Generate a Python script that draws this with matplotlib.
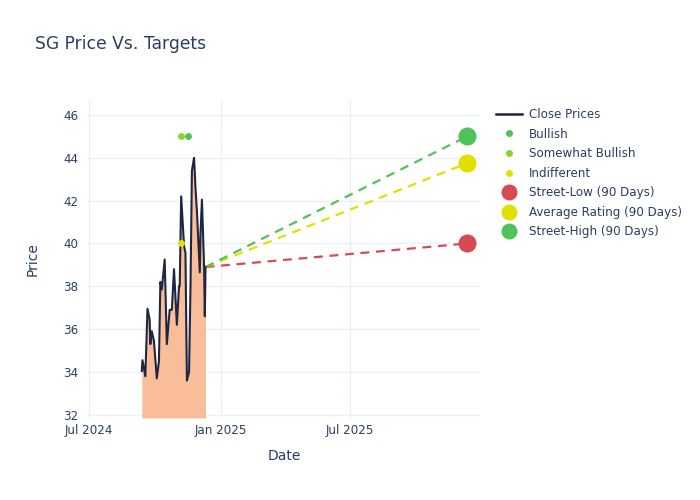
import matplotlib
matplotlib.use("Agg")
import matplotlib.pyplot as plt
import matplotlib.dates as mdates
from matplotlib.lines import Line2D
import pandas as pd

# ---- data ----
close_dates = ["2024-09-13", "2024-09-14", "2024-09-18", "2024-09-21", "2024-09-24",
               "2024-09-25", "2024-09-27", "2024-09-30", "2024-10-04", "2024-10-07",
               "2024-10-09", "2024-10-11", "2024-10-15", "2024-10-18", "2024-10-22",
               "2024-10-25", "2024-10-28", "2024-11-01", "2024-11-04", "2024-11-05",
               "2024-11-07", "2024-11-11", "2024-11-13", "2024-11-15", "2024-11-18",
               "2024-11-20", "2024-11-22", "2024-11-25", "2024-11-27", "2024-11-29",
               "2024-12-03", "2024-12-04", "2024-12-06", "2024-12-09", "2024-12-10",
               "2024-12-11"]
close_prices = [34.05, 34.55, 33.8, 36.95, 36.45,
                35.3, 35.9, 35.45, 33.7, 34.5,
                38.2, 37.85, 39.25, 35.3, 36.9,
                36.9, 38.8, 36.2, 38.0, 38.0,
                42.2, 39.9, 39.55, 33.6, 34.0,
                37.9, 43.4, 44.0, 42.6, 41.5,
                38.65, 40.5, 42.05, 38.9, 36.6,
                38.9]

bullish_dates = ["2024-11-17"]
bullish_prices = [45]
somewhat_bullish_dates = ["2024-11-07"]
somewhat_bullish_prices = [45]
indifferent_dates = ["2024-11-07"]
indifferent_prices = [40]

target_date = "2025-12-11"
street_low = 40.0
average_rating = 43.75
street_high = 45.0

# ---- style ----
TEXT = "#2a3f5f"
GRID = "#ebf0f8"
GREEN = "#4fc25a"
LIGHTGREEN = "#8fd12f"
YELLOW = "#e0e000"
RED = "#d64b51"
LINE = "#1d2743"
FILL = "#fabd99"

cd = pd.to_datetime(close_dates)
td = pd.to_datetime(target_date)
last_d = cd[-1]
last_p = close_prices[-1]

fig = plt.figure(figsize=(7, 5), dpi=100)
ax = fig.add_axes([88/700, 1-418/500, (480-88)/700, (418-100)/500])

ax.fill_between(cd, close_prices, 31.85, color=FILL, lw=0, zorder=1)
ax.plot(cd, close_prices, color=LINE, lw=1.5, zorder=3)

ax.plot([last_d, td], [last_p, street_low], ls=(0, (4, 3)), color=RED, lw=1.6, zorder=2)
ax.plot([last_d, td], [last_p, average_rating], ls=(0, (4, 3)), color=YELLOW, lw=1.6, zorder=2)
ax.plot([last_d, td], [last_p, street_high], ls=(0, (4, 3)), color=GREEN, lw=1.6, zorder=2)

ax.plot(pd.to_datetime(bullish_dates), bullish_prices, 'o', color=GREEN, ms=5, mew=0, zorder=4)
ax.plot(pd.to_datetime(somewhat_bullish_dates), somewhat_bullish_prices, 'o', color=LIGHTGREEN, ms=5, mew=0, zorder=4)
ax.plot(pd.to_datetime(indifferent_dates), indifferent_prices, 'o', color=YELLOW, ms=5, mew=0, zorder=4)

ax.plot([td], [street_low], 'o', color=RED, ms=13, mew=0, zorder=5)
ax.plot([td], [average_rating], 'o', color=YELLOW, ms=13, mew=0, zorder=5)
ax.plot([td], [street_high], 'o', color=GREEN, ms=13, mew=0, zorder=5)

ax.set_xlim(pd.Timestamp("2024-06-30"), pd.Timestamp("2025-12-29"))
ax.set_ylim(31.85, 46.7)
ax.set_yticks([32, 34, 36, 38, 40, 42, 44, 46])
ax.set_xticks(pd.to_datetime(["2024-07-01", "2025-01-01", "2025-07-01"]))
ax.xaxis.set_major_formatter(mdates.DateFormatter("%b %Y"))

for s in ax.spines.values():
    s.set_visible(False)
ax.grid(True, color=GRID, lw=1)
ax.set_axisbelow(True)
ax.tick_params(axis='both', length=0, labelsize=8.6, colors=TEXT)
ax.tick_params(axis='y', pad=7)
ax.tick_params(axis='x', pad=4)

ax.set_xlabel("Date", fontsize=10, color=TEXT, labelpad=9)
ax.set_ylabel("Price", fontsize=10, color=TEXT, labelpad=17)

fig.text(35/700, 1-44/500, "SG Price Vs. Targets", fontsize=12.3, color=TEXT, va='center', ha='left')

handles = [
    Line2D([], [], color=LINE, lw=1.8),
    Line2D([], [], ls='none', marker='o', color=GREEN, ms=5, mew=0),
    Line2D([], [], ls='none', marker='o', color=LIGHTGREEN, ms=5, mew=0),
    Line2D([], [], ls='none', marker='o', color=YELLOW, ms=5, mew=0),
    Line2D([], [], ls='none', marker='o', color=RED, ms=11.5, mew=0),
    Line2D([], [], ls='none', marker='o', color=YELLOW, ms=11.5, mew=0),
    Line2D([], [], ls='none', marker='o', color=GREEN, ms=11.5, mew=0),
]
labels = ["Close Prices", "Bullish", "Somewhat Bullish", "Indifferent",
          "Street-Low (90 Days)", "Average Rating (90 Days)", "Street-High (90 Days)"]
leg = fig.legend(handles, labels, loc='upper left', bbox_to_anchor=(496/700, 1-108/500),
                 frameon=False, fontsize=8.6, labelcolor=TEXT, handlelength=2.2,
                 handletextpad=0.55, labelspacing=0.55, borderaxespad=0, borderpad=0)

fig.savefig("out.png", dpi=100)
